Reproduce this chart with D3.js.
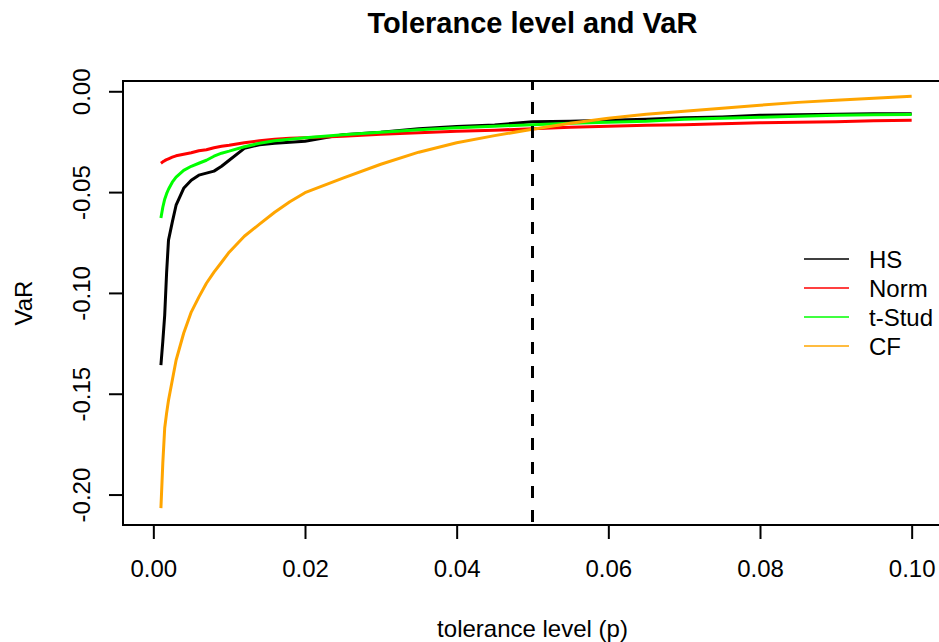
<!DOCTYPE html>
<html>
<head>
<meta charset="utf-8">
<script src="https://cdn.jsdelivr.net/npm/d3@7/dist/d3.min.js"></script>
<style>
	body { margin: 0; background: #fff; }
	svg text { font-family: "Liberation Sans", Arial, sans-serif; fill: #000; }
</style>
</head>
<body>
<div id="chartbox"></div>
<script>
var TITLE = "Tolerance level and VaR";
var X_LABEL = "tolerance level (p)";
var Y_LABEL = "VaR";

var xTicks = [0.00, 0.02, 0.04, 0.06, 0.08, 0.10];
var xTickLabels = ["0.00", "0.02", "0.04", "0.06", "0.08", "0.10"];
var yTicks = [-0.20, -0.15, -0.10, -0.05, 0.00];
var yTickLabels = ["-0.20", "-0.15", "-0.10", "-0.05", "0.00"];

var seriesNames = ["HS", "Norm", "t-Stud", "CF"];
var seriesColors = ["#000000", "#ff0000", "#00ff00", "#ffa500"];

var pLevels = [0.001, 0.00125, 0.0015, 0.00175, 0.002, 0.0025, 0.003, 0.004, 0.005, 0.006, 0.007, 0.008, 0.009, 0.010,
	0.012, 0.014, 0.016, 0.018, 0.020, 0.025, 0.030, 0.035, 0.040, 0.045, 0.050,
	0.055, 0.060, 0.065, 0.070, 0.075, 0.080, 0.085, 0.090, 0.095, 0.100];

var varHS = [-0.1358, -0.1240, -0.1110, -0.0900, -0.0738, -0.0649, -0.0565, -0.0481, -0.0441, -0.0416, -0.0406, -0.0396, -0.0372, -0.0342,
	-0.0283, -0.0265, -0.0258, -0.0253, -0.0248, -0.0215, -0.0203, -0.0186, -0.0175, -0.0167, -0.0151,
	-0.0149, -0.0144, -0.0139, -0.0131, -0.0127, -0.0119, -0.0116, -0.0114, -0.0111, -0.0112];

var varNorm = [-0.0357, -0.0350, -0.0344, -0.0339, -0.0335, -0.0327, -0.0320, -0.0312, -0.0305, -0.0295, -0.0290, -0.0280, -0.0273, -0.0268,
	-0.0255, -0.0245, -0.0238, -0.0233, -0.0230, -0.0223, -0.0213, -0.0206, -0.0198, -0.0193, -0.0186,
	-0.0178, -0.0173, -0.0169, -0.0166, -0.0161, -0.0156, -0.0154, -0.0151, -0.0146, -0.0144];

var varTStud = [-0.0629, -0.0575, -0.0535, -0.0508, -0.0486, -0.0451, -0.0426, -0.0392, -0.0372, -0.0357, -0.0342, -0.0322, -0.0307, -0.0297,
	-0.0275, -0.0258, -0.0245, -0.0238, -0.0230, -0.0216, -0.0203, -0.0191, -0.0181, -0.0173, -0.0166,
	-0.0159, -0.0154, -0.0149, -0.0139, -0.0134, -0.0129, -0.0124, -0.0119, -0.0116, -0.0115];

var varCF = [-0.2067, -0.1844, -0.1670, -0.1596, -0.1532, -0.1433, -0.1334, -0.1200, -0.1095, -0.1021, -0.0952, -0.0897, -0.0848, -0.0798,
	-0.0719, -0.0659, -0.0600, -0.0548, -0.0503, -0.0431, -0.0362, -0.0302, -0.0255, -0.0220, -0.0188,
	-0.0159, -0.0134, -0.0114, -0.0099, -0.0084, -0.0069, -0.0055, -0.0045, -0.0035, -0.0025];

var P_CUTOFF = 0.05;

var width = 939;
var height = 642;
var plot = { left: 123, right: 942, top: 81, bottom: 525 };

var svg = d3.select("#chartbox").append("svg")
	.attr("width", width)
	.attr("height", height);

var x = d3.scaleLinear().domain([-0.004, 0.104]).range([plot.left, plot.right]);
var y = d3.scaleLinear().domain([-0.2151, 0.0051]).range([plot.bottom, plot.top]);

// axes, R style: outward ticks, labels set apart
var xAxis = svg.append("g")
	.attr("transform", "translate(0," + plot.bottom + ")")
	.call(d3.axisBottom(x).tickValues(xTicks).tickSize(14).tickSizeOuter(0)
		.tickFormat(function (d, i) { return xTickLabels[i]; }));
xAxis.select(".domain").remove();
xAxis.selectAll("line").attr("stroke", "#000").attr("stroke-width", 2);
xAxis.selectAll("text")
	.attr("y", 52).attr("dy", null)
	.style("font-size", "24px");
xAxis.attr("font-family", null).attr("font-size", null);

var yAxis = svg.append("g")
	.attr("transform", "translate(" + plot.left + ",0)")
	.call(d3.axisLeft(y).tickValues(yTicks).tickSize(14).tickSizeOuter(0)
		.tickFormat(function (d, i) { return yTickLabels[i]; }));
yAxis.select(".domain").remove();
yAxis.selectAll("line").attr("stroke", "#000").attr("stroke-width", 2);
yAxis.selectAll("text")
	.attr("x", null).attr("dy", null)
	.attr("text-anchor", "middle")
	.attr("transform", "translate(-33,0) rotate(-90)")
	.style("font-size", "24px");
yAxis.attr("font-family", null).attr("font-size", null);

svg.append("clipPath").attr("id", "plotclip")
	.append("rect")
	.attr("x", plot.left).attr("y", plot.top)
	.attr("width", plot.right - plot.left).attr("height", plot.bottom - plot.top);

var line = d3.line()
	.x(function (d) { return x(d[0]); })
	.y(function (d) { return y(d[1]); });

var allSeries = [varHS, varNorm, varTStud, varCF];

var lines = svg.append("g").attr("clip-path", "url(#plotclip)");
allSeries.forEach(function (vals, i) {
	lines.append("path")
		.datum(d3.zip(pLevels, vals))
		.attr("d", line)
		.attr("fill", "none")
		.attr("stroke", seriesColors[i])
		.attr("stroke-width", 3)
		.attr("stroke-linejoin", "round");
});

lines.append("line")
	.attr("x1", x(P_CUTOFF)).attr("x2", x(P_CUTOFF))
	.attr("y1", plot.top).attr("y2", plot.bottom)
	.attr("stroke", "#000")
	.attr("stroke-width", 3)
	.attr("stroke-dasharray", "12,12")
	.attr("stroke-dashoffset", 3);

svg.append("rect")
	.attr("x", plot.left).attr("y", plot.top)
	.attr("width", plot.right - plot.left).attr("height", plot.bottom - plot.top)
	.attr("fill", "none")
	.attr("stroke", "#000")
	.attr("stroke-width", 2);

svg.append("text")
	.attr("x", (plot.left + plot.right) / 2).attr("y", 33)
	.attr("text-anchor", "middle")
	.style("font-size", "29px")
	.style("font-weight", "bold")
	.text(TITLE);

svg.append("text")
	.attr("x", (plot.left + plot.right) / 2).attr("y", 637)
	.attr("text-anchor", "middle")
	.style("font-size", "24px")
	.text(X_LABEL);

svg.append("text")
	.attr("transform", "translate(32," + ((plot.top + plot.bottom) / 2) + ") rotate(-90)")
	.attr("text-anchor", "middle")
	.style("font-size", "24px")
	.text(Y_LABEL);

// legend, no box
var legend = svg.append("g").attr("transform", "translate(804,259)");
seriesNames.forEach(function (name, i) {
	var row = legend.append("g").attr("transform", "translate(0," + (i * 29) + ")");
	row.append("line")
		.attr("x1", 0).attr("x2", 45)
		.attr("stroke", seriesColors[i])
		.attr("stroke-opacity", 0.75)
		.attr("stroke-width", 2);
	row.append("text")
		.attr("x", 65).attr("y", 9)
		.style("font-size", "24px")
		.text(name);
});
</script>
</body>
</html>
